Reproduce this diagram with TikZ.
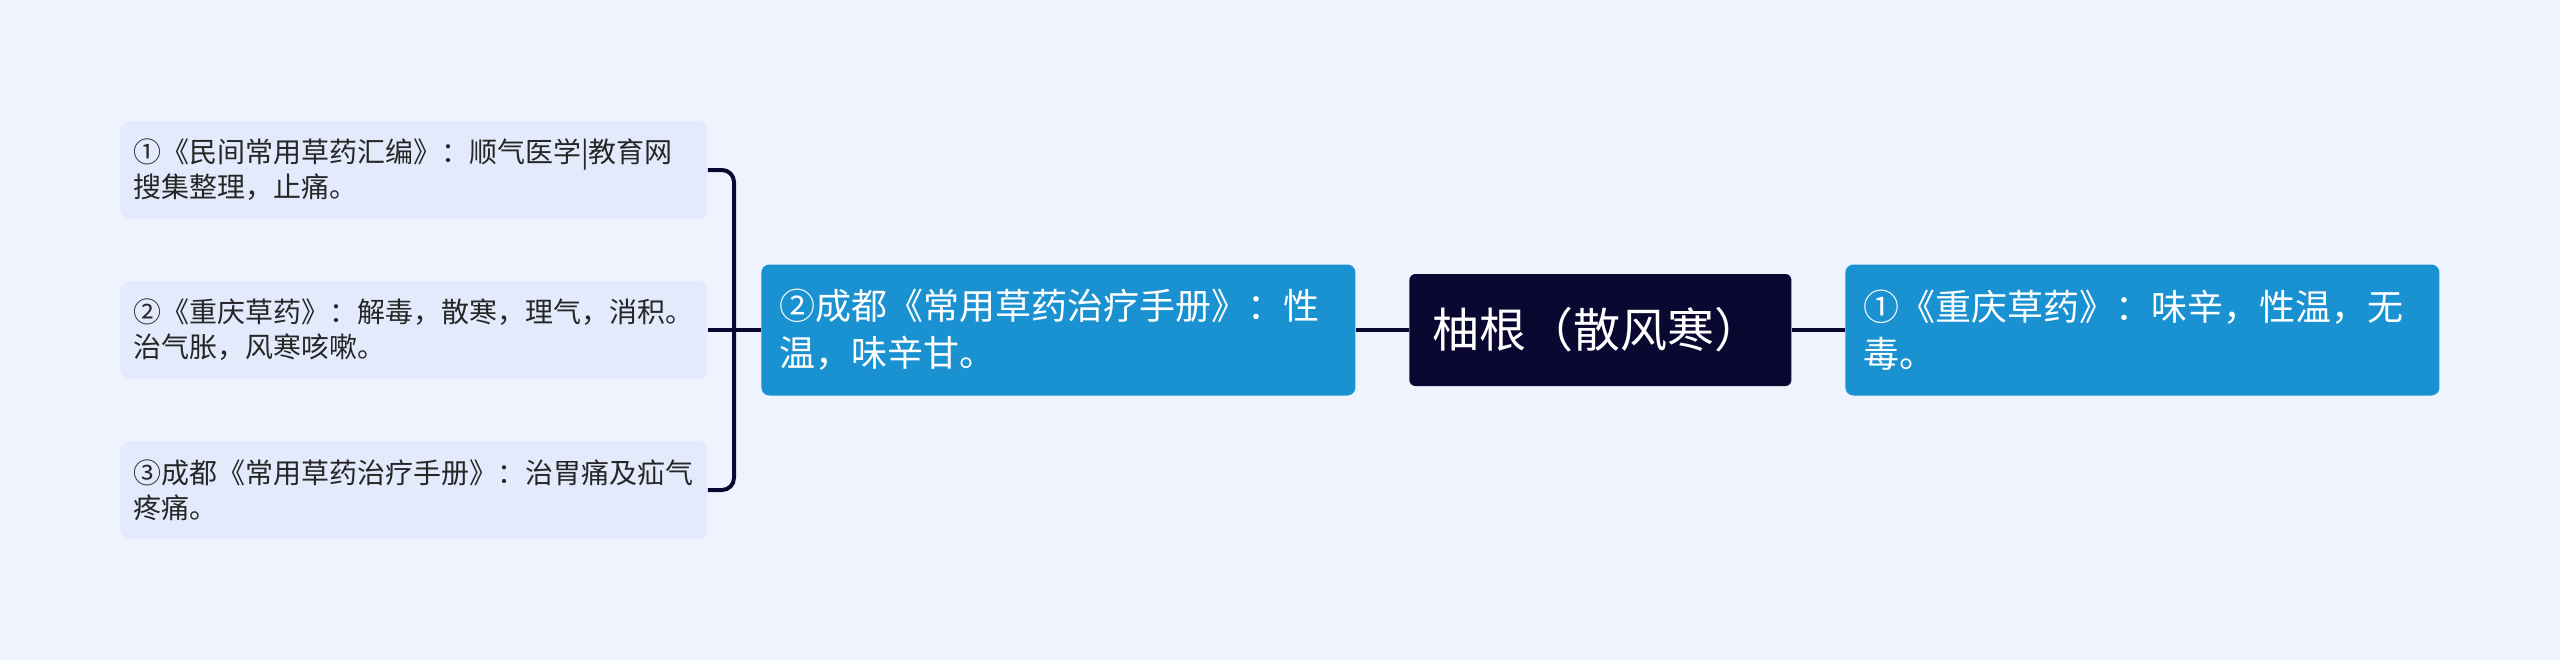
\documentclass[tikz,border=0pt]{standalone}
\usepackage{fontspec}
\setmainfont{Noto Sans CJK SC}
\usetikzlibrary{positioning}
\definecolor{bgpale}{RGB}{238,243,254}
\definecolor{leaffill}{RGB}{226,234,251}
\definecolor{subblue}{RGB}{26,145,208}
\definecolor{rootnavy}{RGB}{10,8,48}

\tikzset{
  leafbox/.style={fill=leaffill,rounded corners=5pt,anchor=west,align=left,
    text width=280.5pt,inner xsep=6.5pt,minimum height=49pt,
    font=\fontsize{14pt}{17.5pt}\selectfont,text=black!85},
  subbox/.style={fill=subblue,rounded corners=4pt,anchor=west,align=left,
    text width=279pt,inner xsep=9pt,minimum height=65.5pt,
    font=\fontsize{18pt}{23.5pt}\selectfont,text=white},
  rootbox/.style={fill=rootnavy,rounded corners=3pt,anchor=west,align=left,
    text width=168pt,inner xsep=11.5pt,minimum height=56pt,
    font=\fontsize{23.5pt}{28pt}\selectfont,text=white},
  conn/.style={draw=rootnavy,line width=2pt}
}

\begin{document}
\begin{tikzpicture}[x=0.5pt,y=-0.5pt]
  % canvas
  \fill[bgpale] (0,0) rectangle (2560,660);
  \useasboundingbox (0,0) rectangle (2560,660);
  % centre and first-level nodes
  \node[rootbox] (root) at (1409,330) {柚根（散风寒）};
  \node[subbox] (sub2) at (761,330) {②成都《常用草药治疗手册》：性\\温，味辛甘。};
  \node[subbox] (sub1) at (1845,330) {①《重庆草药》：味辛，性温，无\\毒。};
  % leaves
  \node[leafbox] (leaf1) at (120,170) {①《民间常用草药汇编》：顺气医学|教育网\\搜集整理，止痛。};
  \node[leafbox] (leaf2) at (120,330) {②《重庆草药》：解毒，散寒，理气，消积。\\治气胀，风寒咳嗽。};
  \node[leafbox] (leaf3) at (120,490) {③成都《常用草药治疗手册》：治胃痛及疝气\\疼痛。};
  % connectors
  \coordinate (brk) at (734,330);
  \draw[conn] (root.east) -- (sub1.west);
  \draw[conn] (sub2.east) -- (root.west);
  \draw[conn] (leaf2.east) -- (sub2.west);
  \draw[conn,rounded corners=6pt] (leaf1.east) -| (brk) |- (leaf3.east);
\end{tikzpicture}
\end{document}
